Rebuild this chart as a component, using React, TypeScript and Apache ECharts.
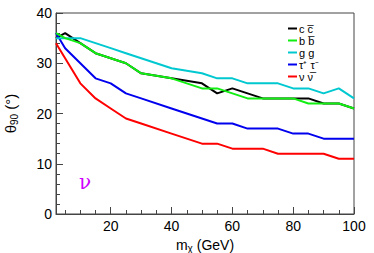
import React, { useEffect, useRef } from "react";
import * as echarts from "echarts";

const masses = [2, 5, 10, 15, 20, 25, 30, 40, 50, 55, 60, 65, 70, 75, 80, 85, 90, 95, 100];
const ccbar = [35, 36, 34, 32, 31, 30, 28, 27, 26, 24, 25, 24, 23, 23, 23, 23, 22, 22, 21];
const bbbar = [36, 35, 34, 32, 31, 30, 28, 27, 25, 25, 24, 23, 23, 23, 23, 22, 22, 22, 21];
const gg = [35, 35, 35, 34, 33, 32, 31, 29, 28, 27, 27, 26, 26, 26, 25, 25, 24, 25, 23];
const tautau = [36, 33, 30, 27, 26, 24, 23, 21, 19, 18, 18, 17, 17, 17, 16, 16, 15, 15, 15];
const nunu = [34, 31, 26, 23, 21, 19, 18, 16, 14, 14, 13, 13, 13, 12, 12, 12, 12, 11, 11];

const seriesNames = ["c c\u0305", "b b\u0305", "g g", "\u03c4\u207a \u03c4\u207b", "\u03bd \u03bd\u0305"];
const seriesData = [ccbar, bbbar, gg, tautau, nunu];
const seriesColors = ["#000000", "#11ee11", "#00c8d0", "#0000ee", "#ff0000"];
const seriesZ = [2, 6, 5, 4, 3];

const xMajorTicks = [20, 40, 60, 80, 100];
const xMinorTicks = [5, 10, 15, 25, 30, 35, 45, 50, 55, 65, 70, 75, 85, 90, 95];

const FONT = "Liberation Sans, Arial, sans-serif";

export default function App() {
  const ref = useRef<HTMLDivElement>(null);
  useEffect(() => {
    if (!ref.current) return;
    const chart = echarts.init(ref.current, null, { renderer: "svg" });
    const series = seriesNames.map((name, i) => ({
      name,
      type: "line",
      data: masses.map((m, j) => [m, seriesData[i][j]]),
      showSymbol: false,
      lineStyle: { color: seriesColors[i], width: 2 },
      itemStyle: { color: seriesColors[i] },
      z: seriesZ[i],
    }));
    chart.setOption({
      animation: false,
      backgroundColor: "#ffffff",
      textStyle: { fontFamily: FONT },
      grid: {
        left: 56,
        right: 20,
        top: 13,
        bottom: 39,
        show: true,
        borderColor: "#444",
        borderWidth: 1,
        containLabel: false,
        outerBoundsMode: "none",
      },
      legend: {
        orient: "vertical",
        left: 283,
        top: 18,
        itemWidth: 9,
        itemHeight: 2,
        itemGap: 1,
        icon: "rect",
        textStyle: { fontFamily: FONT, fontSize: 11, color: "#000", padding: [0, 0, 0, -3] },
        data: seriesNames,
      },
      xAxis: [
        {
          type: "value",
          min: 2,
          max: 100,
          axisLine: { show: true, lineStyle: { color: "#444" } },
          axisTick: { show: true, inside: true, length: 7, customValues: xMajorTicks, lineStyle: { color: "#444" } },
          axisLabel: { customValues: xMajorTicks, fontSize: 14, color: "#000", fontFamily: FONT, margin: 5 },
          splitLine: { show: false },
          name: "{a|m}{s|\u03c7}{a| (GeV)}",
          nameLocation: "middle",
          nameGap: 15,
          nameTextStyle: {
            rich: {
              a: { fontSize: 14, fontFamily: FONT, color: "#000" },
              s: { fontSize: 10, fontFamily: FONT, color: "#000", padding: [8, 0, 0, 0] },
            },
          },
        },
        {
          type: "value",
          min: 2,
          max: 100,
          position: "bottom",
          axisLine: { show: false },
          axisTick: { show: true, inside: true, length: 4, customValues: xMinorTicks, lineStyle: { color: "#444" } },
          axisLabel: { show: false },
          splitLine: { show: false },
        },
      ],
      yAxis: {
        type: "value",
        min: 0,
        max: 40,
        interval: 10,
        axisLine: { show: true, lineStyle: { color: "#444" } },
        axisTick: { show: true, inside: true, length: 7, lineStyle: { color: "#444" } },
        minorTick: { show: true, splitNumber: 5, length: 4, lineStyle: { color: "#444" } },
        axisLabel: { fontSize: 14, color: "#000", fontFamily: FONT, margin: 4 },
        splitLine: { show: false },
        minorSplitLine: { show: false },
        name: "{a|\u03b8}{s|90}{a| (\u00b0)}",
        nameLocation: "middle",
        nameGap: 37,
        nameRotate: 90,
        nameTextStyle: {
          rich: {
            a: { fontSize: 15, fontFamily: FONT, color: "#000" },
            s: { fontSize: 10, fontFamily: FONT, color: "#000", padding: [8, 0, 0, 0] },
          },
        },
      },
      graphic: [
        {
          type: "text",
          left: 79,
          top: 172,
          style: {
            text: "\u03bd",
            fontSize: 20,
            fontFamily: "DejaVu Serif, serif",
            fill: "#d000ff",
          },
        },
      ],
      series,
    });
    return () => chart.dispose();
  }, []);
  return (
    <div
      ref={ref}
      style={{ position: "absolute", left: 0, top: 0, width: 374, height: 253 }}
    />
  );
}
